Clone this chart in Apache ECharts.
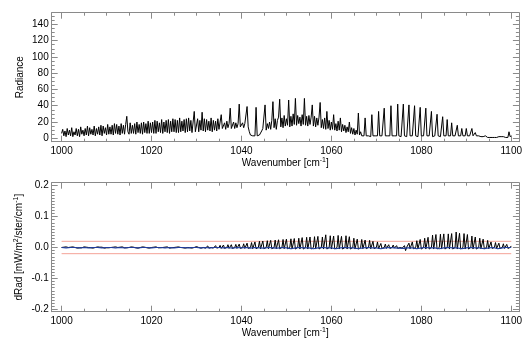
<!DOCTYPE html>
<html>
<head>
<meta charset="utf-8">
<script src="https://cdn.jsdelivr.net/npm/echarts@6/dist/echarts.min.js"></script>
<style>
html,body{margin:0;padding:0;background:#fff;}
#chart{width:525px;height:342px;}
</style>
</head>
<body>
<div id="chart"></div>
<script>
// ---- data ----
const wnStart = 1000;
const radStep = 0.25;   // cm-1 between radiance samples
// Radiance, 4 samples per cm-1 from 1000 to 1100
const radiance = [
 6,11,3,9, 2,12,4,10, 3,13,2,8, 4,12,3,11, 2,14,5,10,
 3,12,4,15, 3,13,5,11, 4,15,3,12, 5,14,4,16, 3,15,6,13,
 4,17,5,14, 5,16,4,18, 6,17,5,15, 4,18,6,16, 5,17,27,8,
 5,19,6,16, 6,18,5,20, 7,17,6,19, 5,20,7,18, 6,21,6,19,
 7,20,6,22, 6,21,8,19, 7,23,6,20, 8,22,7,23, 6,21,8,24,
 8,23,7,22, 7,25,8,21, 9,23,7,24, 8,25,9,22, 7,20,33,8,
 9,24,8,22, 10,32,9,24, 8,23,10,21, 9,25,8,22, 10,21,9,24,
 11,20,29,12, 12,19,11,21, 13,18,37,12, 14,20,12,19, 13,18,42,14,
 15,19,13,18, 16,39,14,8, 4,2,3,2, 3,38,3,2, 4,3,9,12,
 14,41,10,18, 12,20,11,22, 45,13,24,11, 22,26,48,14, 25,13,28,15,
 24,16,47,14, 27,15,30,17, 49,16,28,18, 26,15,29,17, 49,16,27,15,
 28,17,26,41, 15,27,14,25, 16,26,44,13, 23,12,25,11, 33,12,22,10,
 20,11,29,10, 18,9,21,10, 25,8,17,9, 16,7,14,8, 20,6,13,5,
 12,4,10,5, 31,4,8,3, 5,3,25,3, 4,3,3,2, 29,3,2,3,
 2,3,33,3, 2,3,3,37, 3,2,3,3, 3,40,3,2, 3,3,3,42,
 3,3,2,3, 42,3,3,2, 3,41,3,2, 3,2,40,3, 3,2,3,38,
 3,2,3,3, 37,3,2,3, 3,33,2,3, 3,3,29.5,3, 3,2,3,26.5,
 3,2,3,23, 3,3,3,19, 3,2,3,3, 16,3,2,3, 12,3,2,3,
 12,3,2,3, 2,12,3,2, 7,3,2,3, 3,2,4,2, 2,3,2,1,
 2,1,3,1, 2,1,2,1, 1,2,1,2, 1,2,1,1, 2,1,8,2,
 3
];
// dRad (black), in units of 1e-3, 4 samples per cm-1
const dRadStep = 0.25;
const dRadMilli = [
 0,-2,1,-1, 2,-1,0,-2, 1,-2,2,-1, 0,1,-2,2, -1,2,-1,0,
 2,-2,1,-1, 0,2,-1,1, -2,1,0,-1, 2,-1,1,-2, 1,0,-2,2,
 -1,1,-1,2, 0,-2,1,0, 2,-1,0,-1, 1,-2,2,0, -1,2,-1,1,
 0,-1,2,-2, 1,0,-1,2, -2,1,0,-1, 2,-1,1,0, -1,2,-2,1,
 0,-1,1,-2, 2,0,-1,1, -1,2,0,-2, 1,-1,2,0, -2,1,-1,2,
 0,-1,1,-1, 2,-2,0,1, -1,1,-2,2, 0,3,-1,1, -2,2,0,-1,
 3,-2,0,4, -2,1,0,4, -2,0,5,-2, 1,0,5,-2, 0,6,-2,1,
 0,7,-3,0, 8,-3,1,0, 9,-3,0,9, -3,1,0,10, -3,0,11,-3,
 1,0,12,-3, 0,14,-3,1, 0,16,-4,0, 18,-4,1,0, 20,-4,0,21,
 -4,1,0,22, -4,0,23,-4, 1,0,24,-4, 0,25,-4,1, 0,26,-4,0,
 27,-4,1,0, 28,-5,0,29, -5,1,0,30, -5,0,32,-5, 1,0,33,-5,
 0,34,-5,1, 0,35,-5,0, 36,-5,1,0, 34,-5,0,41, -5,1,0,38,
 -5,0,37,-5, 1,0,39,-5, 0,36,-5,1, 0,38,-5,0, 35,-5,1,0,
 30,-5,0,27, -5,1,0,26, -4,0,24,-4, 1,0,23,-4, 0,20,-4,1,
 0,18,-4,0, 13,-3,1,0, 11,-3,0,9, -3,1,0,8, -2,0,6,-3,
 1,0,5,-2, -6,6,-10,1, 0,14,-4,0, 18,-4,1,0, 22,-4,0,26,
 -5,1,0,30, -5,0,33,-5, 1,0,40,-5, 0,42,-5,1, 0,43,-5,0,
 44,-5,1,0, 44,-5,0,45, -5,1,0,50, -5,0,46,-5, 1,0,45,-5,
 0,42,-5,1, 0,37,-5,0, 34,-5,1,0, 30,-4,0,27, -4,1,0,23,
 -4,0,18,-3, 1,0,16,-3, 0,14,-3,1, 0,12,-3,0, 10,-3,1,0,
 5
];
// smoothed dRad (blue), units of 1e-3, 1 sample per cm-1
const fitStep = 1;
const fitMilli = [
 0,-1,0,0,-1,0,-1,0,0,-1,
 0,0,-1,0,-1,0,0,-1,0,0,
 -1,0,0,-1,0,-1,0,0,-1,0,
 0,-1,0,-1,0,0,-1,0,-2,0,
 -1,0,-2,0,-1,-2,0,-1,-2,0,
 -1,-4,-1,0,-1,-1,-4,-1,0,-1,
 -1,-4,-1,0,-1,-1,-4,-1,0,-1,
 -1,-4,-1,0,-1,-2,-3,-1,-1,-4,
 -1,0,-1,-1,-4,-1,0,-1,-1,-4,
 -1,0,-1,-1,-4,-1,0,-4,-1,0,
 0
];
const limitX = [1000, 1100];
const limitVal = 0.02;

// ticks / labels
const xMajor = [1000, 1020, 1040, 1060, 1080, 1100];
const xMinor = [1000,1005,1010,1015,1020,1025,1030,1035,1040,1045,1050,1055,1060,1065,1070,1075,1080,1085,1090,1095,1100];
const radMajor = [0, 20, 40, 60, 80, 100, 120, 140];
const radMinor = [0,5,10,15,20,25,30,35,40,45,50,55,60,65,70,75,80,85,90,95,100,105,110,115,120,125,130,135,140,145,150];
const dMajor = [-0.2, -0.1, 0, 0.1, 0.2];
const dMinor = [-0.2,-0.19,-0.18,-0.17,-0.16,-0.15,-0.14,-0.13,-0.12,-0.11,-0.1,-0.09,-0.08,-0.07,-0.06,-0.05,-0.04,-0.03,-0.02,-0.01,0,
  0.01,0.02,0.03,0.04,0.05,0.06,0.07,0.08,0.09,0.1,0.11,0.12,0.13,0.14,0.15,0.16,0.17,0.18,0.19,0.2];

// ---- build ----
const toPairs = (arr, step, scale) => arr.map((v, i) => [wnStart + i * step, v * scale]);

const AXC = '#8a8a8a';
const FONT = 'Liberation Sans';
const labelStyle = { color: '#000', fontSize: 10, fontFamily: FONT };
const X_MIN = 997.8, X_MAX = 1101.7;

function xAxesFor(g) {
  const base = { type: 'value', gridIndex: g, min: X_MIN, max: X_MAX, splitLine: { show: false } };
  return [
    Object.assign({}, base, {
      position: 'bottom',
      axisLine: { show: true, onZero: false, lineStyle: { color: AXC, width: 1 } },
      axisTick: { show: true, inside: true, length: 6, customValues: xMajor, lineStyle: { color: AXC } },
      axisLabel: Object.assign({ show: true, customValues: xMajor, margin: 5, formatter: v => String(v) }, labelStyle),
      name: 'Wavenumber [cm{s|-1}]',
      nameLocation: 'middle',
      nameGap: 15,
      nameMoveOverlap: false,
      nameTextStyle: Object.assign({}, labelStyle, {
        rich: { s: { fontSize: 7, fontFamily: FONT, color: '#000', padding: [0, 0, 6, 0] } }
      })
    }),
    Object.assign({}, base, {
      position: 'bottom',
      axisLine: { show: false, onZero: false },
      axisTick: { show: true, inside: true, length: 3, customValues: xMinor, lineStyle: { color: AXC } },
      axisLabel: { show: false }
    }),
    Object.assign({}, base, {
      position: 'top',
      axisLine: { show: true, onZero: false, lineStyle: { color: AXC, width: 1 } },
      axisTick: { show: true, inside: true, length: 6, customValues: xMajor, lineStyle: { color: AXC } },
      axisLabel: { show: false }
    }),
    Object.assign({}, base, {
      position: 'top',
      axisLine: { show: false, onZero: false },
      axisTick: { show: true, inside: true, length: 3, customValues: xMinor, lineStyle: { color: AXC } },
      axisLabel: { show: false }
    })
  ];
}

function yAxesFor(g, min, max, major, minor, fmt, name, nameRich, gap) {
  const base = { type: 'value', gridIndex: g, min: min, max: max, splitLine: { show: false } };
  return [
    Object.assign({}, base, {
      position: 'left',
      axisLine: { show: true, onZero: false, lineStyle: { color: AXC, width: 1 } },
      axisTick: { show: true, inside: true, length: 6, customValues: major, lineStyle: { color: AXC } },
      axisLabel: Object.assign({ show: true, customValues: major, margin: 3, formatter: fmt }, labelStyle),
      name: name,
      nameLocation: 'middle',
      nameGap: gap,
      nameMoveOverlap: false,
      nameTextStyle: Object.assign({}, labelStyle, { rich: nameRich })
    }),
    Object.assign({}, base, {
      position: 'left',
      axisLine: { show: false, onZero: false },
      axisTick: { show: true, inside: true, length: 3, customValues: minor, lineStyle: { color: AXC } },
      axisLabel: { show: false }
    }),
    Object.assign({}, base, {
      position: 'right',
      axisLine: { show: true, onZero: false, lineStyle: { color: AXC, width: 1 } },
      axisTick: { show: true, inside: true, length: 6, customValues: major, lineStyle: { color: AXC } },
      axisLabel: { show: false }
    }),
    Object.assign({}, base, {
      position: 'right',
      axisLine: { show: false, onZero: false },
      axisTick: { show: true, inside: true, length: 3, customValues: minor, lineStyle: { color: AXC } },
      axisLabel: { show: false }
    })
  ];
}

const supRich = { s: { fontSize: 7, fontFamily: FONT, color: '#000', padding: [0, 0, 6, 0] } };

const option = {
  animation: false,
  backgroundColor: '#fff',
  grid: [
    { left: 51.7, right: 5.7, top: 12.7, height: 129, containLabel: false },
    { left: 51.7, right: 5.7, top: 182.7, height: 129, containLabel: false }
  ],
  xAxis: [].concat(xAxesFor(0), xAxesFor(1)),
  yAxis: [].concat(
    yAxesFor(0, -4.2, 154.3, radMajor, radMinor, v => String(v), 'Radiance', {}, 26),
    yAxesFor(1, -0.2078, 0.2097, dMajor, dMinor, v => v.toFixed(1), 'dRad [mW/m{s|2}/ster/cm{s|-1}]', supRich, 26)
  ),
  series: [
    {
      type: 'line', xAxisIndex: 0, yAxisIndex: 0,
      data: toPairs(radiance, radStep, 1),
      showSymbol: false, symbol: 'none', sampling: null,
      lineStyle: { color: '#000', width: 1 }
    },
    {
      type: 'line', xAxisIndex: 4, yAxisIndex: 4,
      data: limitX.map(x => [x, limitVal]),
      showSymbol: false, symbol: 'none',
      lineStyle: { color: '#f4a398', width: 1 }
    },
    {
      type: 'line', xAxisIndex: 4, yAxisIndex: 4,
      data: limitX.map(x => [x, -limitVal]),
      showSymbol: false, symbol: 'none',
      lineStyle: { color: '#f4a398', width: 1 }
    },
    {
      type: 'line', xAxisIndex: 4, yAxisIndex: 4,
      data: toPairs(dRadMilli, dRadStep, 0.001),
      showSymbol: false, symbol: 'none',
      lineStyle: { color: '#000', width: 1 }
    },
    {
      type: 'line', xAxisIndex: 4, yAxisIndex: 4,
      data: toPairs(fitMilli, fitStep, 0.001),
      showSymbol: false, symbol: 'none',
      lineStyle: { color: '#1f3c9c', width: 1.2 }
    }
  ]
};

const chart = echarts.init(document.getElementById('chart'), null, { renderer: 'canvas' });
chart.setOption(option);
</script>
</body>
</html>
